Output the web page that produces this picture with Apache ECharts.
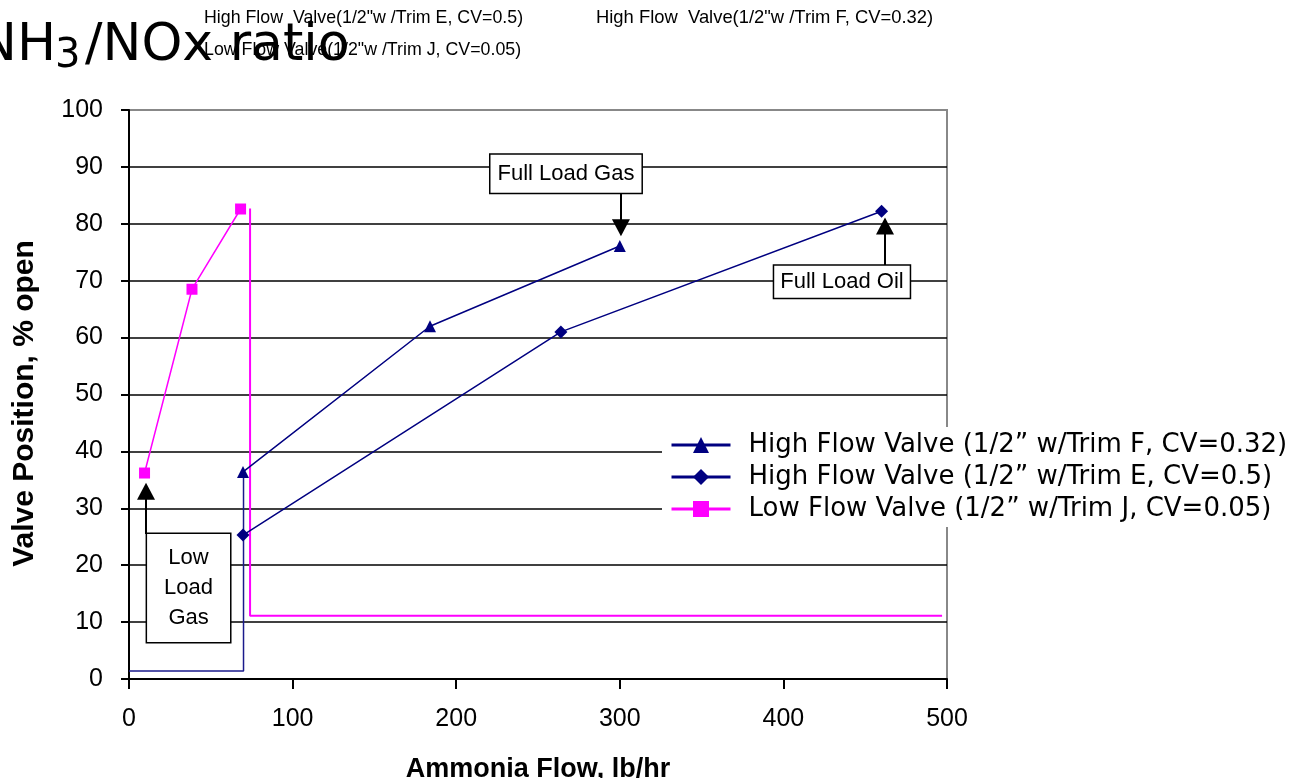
<!DOCTYPE html>
<html>
<head>
<meta charset="utf-8">
<script src="https://cdn.jsdelivr.net/npm/echarts@6/dist/echarts.min.js"></script>
<style>
  html, body { margin: 0; padding: 0; background: #fff; }
  #chart { width: 1307px; height: 778px; }
</style>
</head>
<body>
<div id="chart"></div>
<script>
// values (ammonia flow lb/hr, valve position % open)
const nameF = 'High Flow Valve (1/2\u201D w/Trim F, CV=0.32)';
const nameE = 'High Flow Valve (1/2\u201D w/Trim E, CV=0.5)';
const nameJ = 'Low Flow Valve (1/2\u201D w/Trim J, CV=0.05)';

const flowF = [69.7, 184, 300];
const posF = [36.4, 62, 76.1];
const flowE = [69.7, 264, 460];
const posE = [25.3, 61, 82.2];
const flowJ = [9.5, 38.5, 68.2];
const posJ = [36.2, 68.5, 82.6];

// step traces with no markers
const stepJFlow = [74, 74, 497];
const stepJPos = [82.7, 11.1, 11.1];
const stepEFlow = [0, 70, 70];
const stepEPos = [1.4, 1.4, 36.4];

const xTicks = [0, 100, 200, 300, 400, 500];
const yTicks = [0, 10, 20, 30, 40, 50, 60, 70, 80, 90, 100];

// callouts: label, centre (flow, pos); arrows: from / to
const noteText = ['Full Load Gas', 'Full Load Oil', 'Low\nLoad\nGas'];
const noteFlow = [267.1, 435.8, 36.4];
const notePos = [88.8, 69.8, 16.0];
const arrowFlow = [300.7, 462.1, 10.4];
const arrowFrom = [85.4, 72.6, 25.5];
const arrowTo = [79.3, 79.6, 33.0];

const pairs = (xs, ys) => xs.map((x, i) => [x, ys[i]]);

const chart = echarts.init(document.getElementById('chart'));

const labelFont = 'Liberation Sans, Arial, sans-serif';

chart.setOption({
    animation: false,
    backgroundColor: '#fff',
    grid: {
        left: 129, right: 360, top: 110, bottom: 99,
        show: true, borderColor: '#888', borderWidth: 2,
        outerBoundsMode: 'none'
    },
    graphic: [
        { type: 'text', x: -22, y: 46, style: { text: 'NH', font: '52px DejaVu Sans', fill: '#000', verticalAlign: 'middle' } },
        { type: 'text', x: 55, y: 57, style: { text: '3', font: '40px DejaVu Sans', fill: '#000', verticalAlign: 'middle' } },
        { type: 'text', x: 85, y: 46, style: { text: '/NOx ratio', font: '52px DejaVu Sans', fill: '#000', verticalAlign: 'middle' } },
        { type: 'text', x: 204, y: 18, style: { text: 'High Flow  Valve(1/2"w /Trim E, CV=0.5)', font: '17.8px Liberation Sans', fill: '#000', verticalAlign: 'middle' } },
        { type: 'text', x: 204, y: 50, style: { text: 'Low Flow Valve(1/2"w /Trim J, CV=0.05)', font: '17.8px Liberation Sans', fill: '#000', verticalAlign: 'middle' } },
        { type: 'text', x: 596, y: 18, style: { text: 'High Flow  Valve(1/2"w /Trim F, CV=0.32)', font: '18.4px Liberation Sans', fill: '#000', verticalAlign: 'middle' } }
    ],
    legend: {
        data: [nameF, nameE, nameJ],
        orient: 'vertical',
        left: 662, top: 427,
        itemWidth: 59, itemHeight: 20, itemGap: 6,
        backgroundColor: '#fff',
        padding: [5, 20, 5, 8],
        lineStyle: { width: 3 },
        textStyle: { fontFamily: 'DejaVu Sans', fontSize: 26, color: '#000', padding: [0, 0, 0, 13] }
    },
    xAxis: {
        type: 'value', min: xTicks[0], max: xTicks[xTicks.length - 1], interval: 100,
        name: 'Ammonia Flow, lb/hr', nameLocation: 'middle', nameGap: 77, nameMoveOverlap: false,
        nameTextStyle: { fontFamily: labelFont, fontWeight: 'bold', fontSize: 27, color: '#000' },
        axisLine: { lineStyle: { color: '#000', width: 2 } },
        axisTick: { show: true, length: 10, lineStyle: { color: '#000', width: 2 } },
        axisLabel: { fontFamily: labelFont, fontSize: 25, color: '#000', margin: 28 },
        splitLine: { show: false }
    },
    yAxis: {
        type: 'value', min: yTicks[0], max: yTicks[yTicks.length - 1], interval: 10,
        name: 'Valve Position, % open', nameLocation: 'middle', nameGap: 89, nameMoveOverlap: false,
        nameTextStyle: { fontFamily: labelFont, fontWeight: 'bold', fontSize: 30, color: '#000', padding: [0, 18, 0, 0] },
        axisLine: { show: true, lineStyle: { color: '#000', width: 2 } },
        axisTick: { show: true, length: 8, lineStyle: { color: '#000', width: 2 } },
        axisLabel: { fontFamily: labelFont, fontSize: 25, color: '#000', margin: 26 },
        splitLine: { show: true, showMaxLine: false, lineStyle: { color: '#000', width: 1.5 } }
    },
    series: [
        {
            name: 'stepJ', type: 'line', data: pairs(stepJFlow, stepJPos),
            showSymbol: false, color: '#ff00ff', lineStyle: { width: 2 }, z: 2
        },
        {
            name: 'stepE', type: 'line', data: pairs(stepEFlow, stepEPos),
            showSymbol: false, color: '#1a1a8c', lineStyle: { width: 1.5 }, z: 2
        },
        {
            name: nameF, type: 'line', data: pairs(flowF, posF),
            symbol: 'triangle', symbolSize: 12, color: '#000080', lineStyle: { width: 1.5 }, z: 3
        },
        {
            name: nameE, type: 'line', data: pairs(flowE, posE),
            symbol: 'diamond', symbolSize: 13, color: '#000080', lineStyle: { width: 1.5 }, z: 3
        },
        {
            name: nameJ, type: 'line', data: pairs(flowJ, posJ),
            symbol: 'rect', symbolSize: 11, color: '#ff00ff', lineStyle: { width: 1.5 }, z: 3
        },
        {
            name: 'notes', type: 'line', data: [], z: 4,
            markLine: {
                silent: true, animation: false,
                symbol: ['none', 'triangle'], symbolSize: [18, 17],
                lineStyle: { color: '#000', width: 2, type: 'solid' },
                itemStyle: { color: '#000' },
                label: { show: false },
                data: arrowFlow.map((x, i) => [{ coord: [x, arrowFrom[i]] }, { coord: [x, arrowTo[i]] }])
            },
            markPoint: {
                silent: true, animation: false,
                symbol: 'rect', symbolSize: 1,
                itemStyle: { color: 'rgba(0,0,0,0)' },
                data: noteText.map((t, i) => ({
                    coord: [noteFlow[i], notePos[i]],
                    label: {
                        show: true, position: 'inside', formatter: t,
                        fontFamily: labelFont, fontSize: 22, color: '#000', lineHeight: i === 2 ? 30 : 24,
                        align: 'center',
                        backgroundColor: '#fff', borderColor: '#000', borderWidth: 1.5,
                        padding: i === 0 ? [7, 7, 7, 7] : (i === 1 ? [4, 6, 4, 6] : [1, 17, 17, 17])
                    }
                }))
            }
        }
    ]
});
</script>
</body>
</html>
